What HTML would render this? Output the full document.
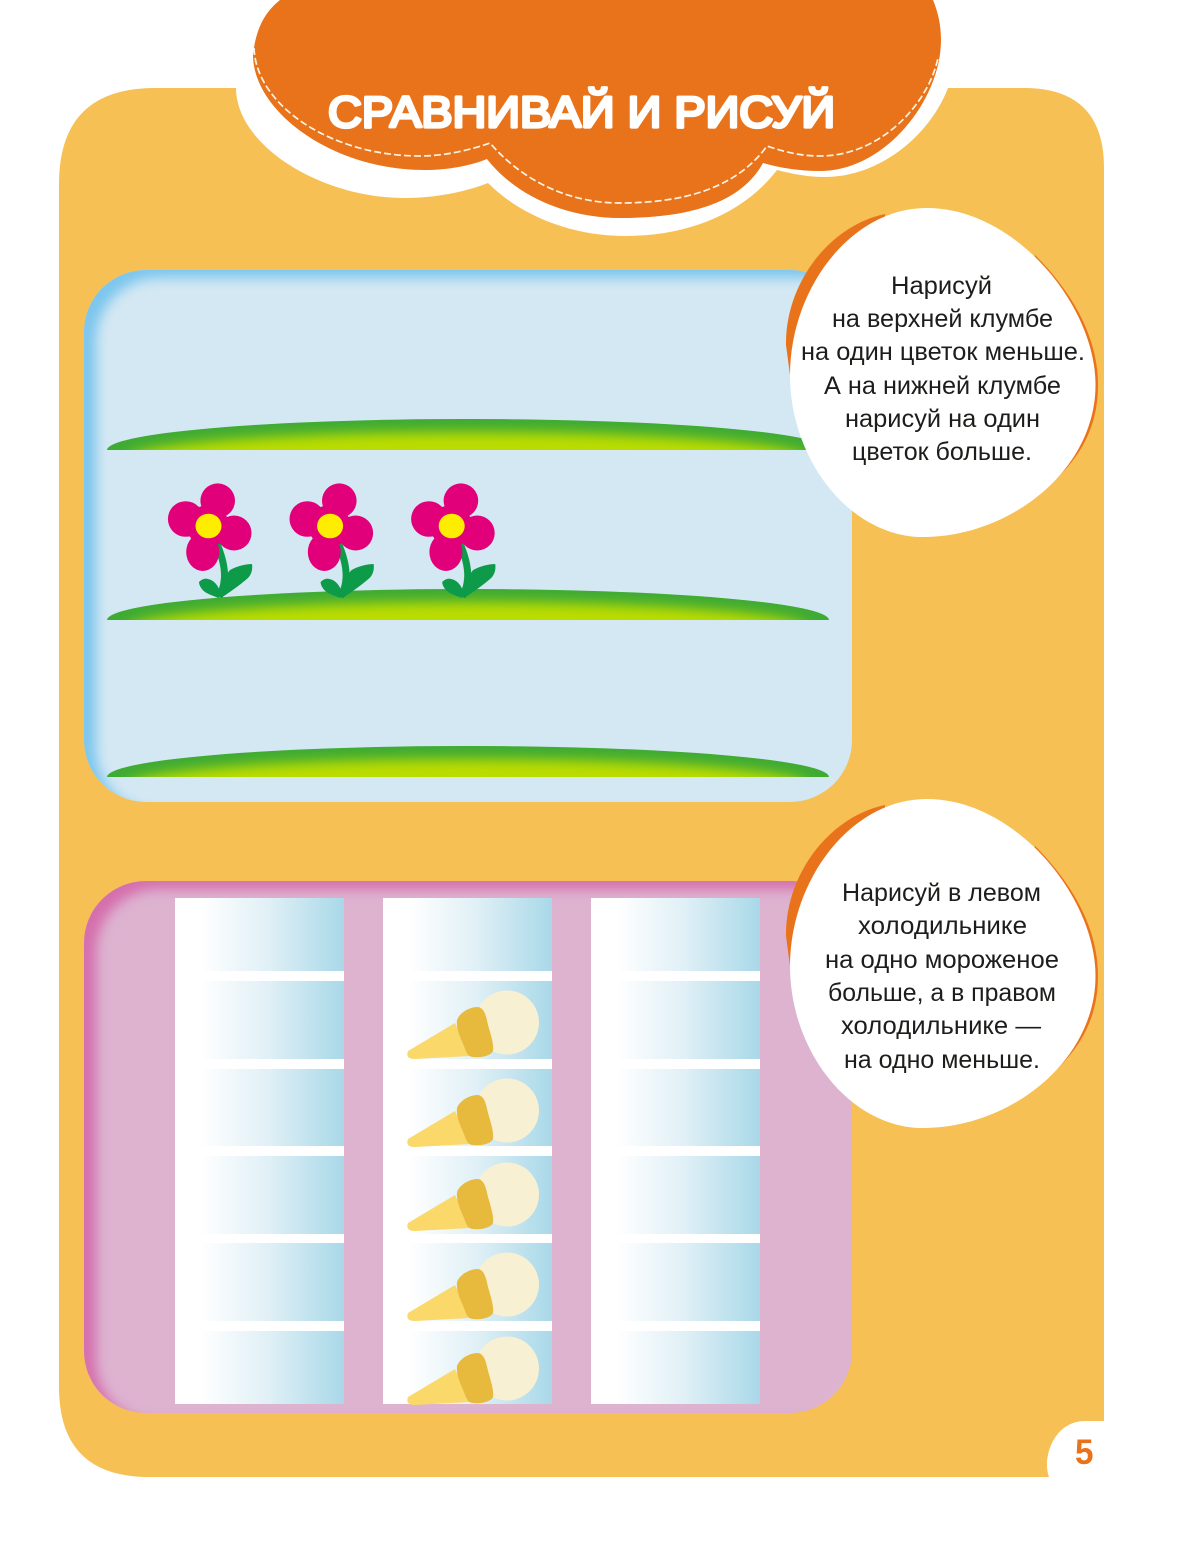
<!DOCTYPE html>
<html><head><meta charset="utf-8">
<style>
html,body{margin:0;padding:0;background:#fff}
body{width:1193px;height:1565px;position:relative;overflow:hidden}
svg{position:absolute;left:0;top:0}
.p{position:absolute;box-sizing:border-box}
</style></head><body>
<svg width="1193" height="1565" viewBox="0 0 1193 1565" style="z-index:0">
<path d="M155 88H1024Q1104 88 1104 168V1421H1085C1060 1421 1047 1445 1047 1465Q1047 1472 1049 1477H149Q59 1477 59 1387V184Q59 88 155 88Z" fill="#F6C055"/>
</svg>
<div class="p" style="left:84px;top:270px;width:768px;height:532px;border-radius:62px;background:#D4E8F3;box-shadow:inset 13px 9px 12px -1px #7CC6EE"></div>
<div class="p" style="left:84px;top:881px;width:768px;height:532px;border-radius:62px;background:#DDB3D0;box-shadow:inset 13px 9px 12px -1px #D56FAE"></div>
<svg width="1193" height="1565" viewBox="0 0 1193 1565" style="z-index:2">
<defs>
<filter id="bl" x="-10%" y="-100%" width="120%" height="300%"><feGaussianBlur stdDeviation="6"/></filter>
<clipPath id="lc"><path d="M107 31A361 31 0 0 1 829 31Z"/></clipPath>
<linearGradient id="f" x1="0" x2="1" y1="0" y2="0">
<stop offset="0" stop-color="#fff"/><stop offset=".15" stop-color="#fff"/><stop offset=".55" stop-color="#E0F0F6"/><stop offset="1" stop-color="#A9D8E8"/>
</linearGradient>
<g id="lens">
<path d="M107 31A361 31 0 0 1 829 31Z" fill="#3FAB33"/>
<g clip-path="url(#lc)"><ellipse cx="468" cy="40" rx="340" ry="27" fill="#BADC00" filter="url(#bl)"/></g>
</g>
<g id="flower">
<path d="M217 544C222 556 226 570 224 582C223 590 220 594 219 597" fill="none" stroke="#0E9B49" stroke-width="7"/>
<path d="M222 593C224 582 226 574 230 570C237 566 246 564 252 564C253 570 251 575 248 578C240 585 230 592 221 598Z" fill="#0E9B49"/>
<path d="M219 598C213 596 208 594 205 592C201 589 199 585 199 582C202 579 205 578 208 579C213 580 217 584 219 589Z" fill="#0E9B49"/>
<circle cx="217.7" cy="500.7" r="17.3" fill="#E2007A"/>
<circle cx="185.7" cy="519" r="17.8" fill="#E2007A"/>
<circle cx="234" cy="533" r="17.5" fill="#E2007A"/>
<ellipse cx="202.7" cy="552" rx="16.5" ry="19" fill="#E2007A"/>
<circle cx="208" cy="526" r="21" fill="#E2007A"/>
<ellipse cx="208.5" cy="526" rx="13" ry="12.3" fill="#FFED00"/>
</g>
<g id="ice">
<circle cx="507" cy="1022.5" r="32" fill="#F8F0D2"/>
<path d="M408 1051L455 1023L470 1056L415 1059Q405 1059 408 1051Z" fill="#FAD86A"/>
<path d="M457 1020C460 1012 470 1007 478 1007C484 1008 486 1015 488 1025C491 1035 494 1045 493 1051C491 1056 480 1058 473 1057C468 1057 466 1052 464 1046C460 1037 456 1028 457 1020Z" fill="#E7BA3D"/>
</g>
<g id="fr">
<rect x="175" y="898" width="169" height="506" fill="url(#f)"/>
<g fill="#fff">
<rect x="175" y="971" width="169" height="10"/>
<rect x="175" y="1059" width="169" height="10"/>
<rect x="175" y="1146" width="169" height="10"/>
<rect x="175" y="1234" width="169" height="9"/>
<rect x="175" y="1321" width="169" height="10"/>
</g>
</g>
<g id="blob">
<path d="M885 214C828 226 785 285 786 345L790 375L885 300Z" fill="#E9731A"/>
<path d="M1035 255C1070 290 1098 335 1098 385C1098 440 1068 478 1010 513L1000 400Z" fill="#E9731A"/>
<path d="M927 208C1015 208 1095.5 305 1095.5 385C1095.5 470 1010 537 923 537C850 537 790 460 790 375C790 290 850 208 927 208Z" fill="#fff"/>
</g>
</defs>

<use href="#lens" y="419"/>
<use href="#lens" y="589"/>
<use href="#lens" y="746"/>
<use href="#flower"/>
<use href="#flower" x="121.6"/>
<use href="#flower" x="243.2"/>

<use href="#fr"/>
<use href="#fr" x="208"/>
<use href="#fr" x="416"/>
<use href="#ice"/>
<use href="#ice" y="88"/>
<use href="#ice" y="172"/>
<use href="#ice" y="262"/>
<use href="#ice" y="346"/>

<path d="M236 88C236 145 320 198 405 198C435 198 465 192 488 183C520 215 570 236 625 236C690 236 745 212 777 170C793 174 808 177 825 177C880 177 930 135 948 88L948 0L236 0Z" fill="#fff"/>
<path d="M280 0C265 12 256 28 253 55C253 110 330 170 425 170C447 170 470 166 487 159C515 195 565 218 620 218C685 218 740 205 763 163C780 168 800 171 820 171C885 171 941 100 941 40C941 25 938 12 933 0Z" fill="#E9731A"/>
<path d="M254 48C256 105 330 156 420 156C445 156 470 150 490 143C520 178 565 203 620 203C680 203 735 190 767 146C785 152 800 156 820 156C880 156 928 105 938 58" fill="none" stroke="#FDF3E3" stroke-width="1.7" stroke-dasharray="7 3"/>
<text x="328" y="127" font-family="'Liberation Sans',sans-serif" font-size="44" fill="#fff" stroke="#fff" stroke-width="3.2" stroke-linejoin="round" stroke-linecap="round" textLength="507" lengthAdjust="spacingAndGlyphs">СРАВНИВАЙ И РИСУЙ</text>

<use href="#blob"/>
<use href="#blob" y="591"/>

<g font-family="'Liberation Sans',sans-serif" font-size="25" fill="#1d1d1b">
<text x="891" y="294" textLength="101" lengthAdjust="spacingAndGlyphs">Нарисуй</text>
<text x="832" y="327" textLength="221" lengthAdjust="spacingAndGlyphs">на верхней клумбе</text>
<text x="801" y="360" textLength="284" lengthAdjust="spacingAndGlyphs">на один цветок меньше.</text>
<text x="824" y="394" textLength="237" lengthAdjust="spacingAndGlyphs">А на нижней клумбе</text>
<text x="845" y="427" textLength="195" lengthAdjust="spacingAndGlyphs">нарисуй на один</text>
<text x="852" y="460" textLength="180" lengthAdjust="spacingAndGlyphs">цветок больше.</text>
<text x="842" y="901" textLength="199" lengthAdjust="spacingAndGlyphs">Нарисуй в левом</text>
<text x="858" y="934" textLength="169" lengthAdjust="spacingAndGlyphs">холодильнике</text>
<text x="825" y="968" textLength="234" lengthAdjust="spacingAndGlyphs">на одно мороженое</text>
<text x="828" y="1001" textLength="228" lengthAdjust="spacingAndGlyphs">больше, а в правом</text>
<text x="841" y="1034" textLength="200" lengthAdjust="spacingAndGlyphs">холодильнике —</text>
<text x="844" y="1068" textLength="196" lengthAdjust="spacingAndGlyphs">на одно меньше.</text>
</g>
<text x="1075" y="1464" font-family="'Liberation Sans',sans-serif" font-weight="700" font-size="35" fill="#E9731A" textLength="18.5" lengthAdjust="spacingAndGlyphs">5</text>
</svg>
</body></html>
